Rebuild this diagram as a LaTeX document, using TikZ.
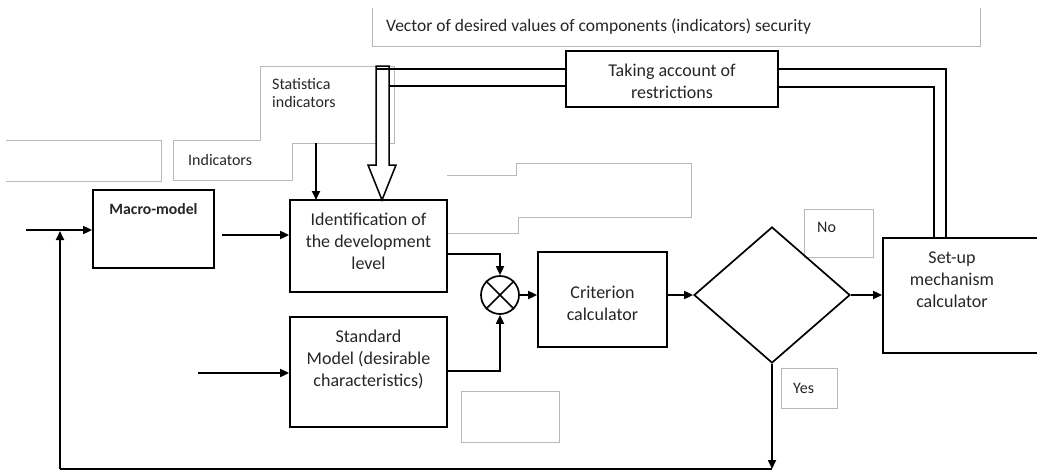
\documentclass[tikz,border=0pt]{standalone}
\usepackage{fontspec}
\setmainfont{Carlito}
\usetikzlibrary{arrows.meta,shapes.geometric}
\tikzset{
  box/.style={draw, line width=1.7pt, fill=white, inner sep=0pt},
  gbox/.style={draw=black!28, line width=1pt},
  conn/.style={line width=1.7pt},
  arr/.style={line width=1.7pt, -{Triangle[length=9pt,width=8pt]}},
  maintxt/.style={font=\fontsize{18}{22}\selectfont, text=black!85, align=center, inner sep=0pt},
  smalltxt/.style={font=\fontsize{16}{18.5}\selectfont, text=black!85, align=left, inner sep=0pt},
}
\begin{document}
\begin{tikzpicture}[x=1pt,y=-1pt]
\useasboundingbox (0,0) rectangle (1037,472);
\fill[white] (0,0) rectangle (1037,472);

% gray text boxes
\draw[gbox] (372,8) -- (372,46) -- (980,46) -- (980,8);
\node[smalltxt, anchor=west, font=\fontsize{17.5}{21}\selectfont] (vec) at (386,27) {Vector of desired values of components (indicators) security};
\draw[gbox] (6,140) -- (161,140) -- (161,181) -- (6,181);
\draw[gbox] (173,140) -- (260,140) -- (260,66) -- (394,66) -- (394,143) -- (292,143) -- (292,180) -- (173,180) -- cycle;
\node[smalltxt, anchor=west] (stat) at (272,93) {Statistica\\indicators};
\node[smalltxt, anchor=west] (ind) at (188,160) {Indicators};
\draw[gbox] (447,175) -- (516,175) -- (516,163) -- (691,163) -- (691,217) -- (518,217) -- (518,233) -- (447,233);
\draw[gbox] (804,209) rectangle (873,257);
\node[smalltxt, anchor=west] (no) at (817,227) {No};
\draw[gbox] (781,368) rectangle (837,408);
\node[smalltxt, anchor=west] (yes) at (793,388) {Yes};
\draw[gbox] (461,391) rectangle (559,442);

% main blocks
\node[box, minimum width=121pt, minimum height=78pt] (macro) at (153.5,229) {};
\node[maintxt, font=\bfseries\fontsize{15.7}{18}\selectfont] (macrot) at (153.5,209) {Macro-model};
\node[box, minimum width=157pt, minimum height=92pt] (ident) at (368.5,246) {};
\node[maintxt] (identt) at (368.5,241.5) {Identification of\\the development\\level};
\node[box, minimum width=157pt, minimum height=110pt] (std) at (368.5,372) {};
\node[maintxt] (stdt) at (368.5,359) {Standard\\Model (desirable\\characteristics)};
\node[box, minimum width=129pt, minimum height=95pt] (crit) at (602.5,299.5) {};
\node[maintxt] (critt) at (602.5,303) {Criterion\\calculator};
\node[draw, line width=1.7pt, diamond, minimum width=156pt, minimum height=136pt, inner sep=0pt] (dec) at (772,295) {};
\node[box, minimum width=170pt, minimum height=115pt] (setup) at (968,295.5) {};
\node[maintxt] (setupt) at (952,280) {Set-up\\mechanism\\calculator};
\node[box, minimum width=212pt, minimum height=56pt] (take) at (672,79) {};
\node[maintxt] (taket) at (672,81.5) {Taking account of\\restrictions};
\node[draw, circle, line width=1.7pt, minimum size=38pt, inner sep=0pt] (mul) at (500,295) {};
\draw[line width=1.5pt] (mul.north west) -- (mul.south east) (mul.north east) -- (mul.south west);

% coordinates for free ends
\coordinate (in1) at (26,230);
\coordinate (min) at (222,235);
\coordinate (sin) at (198,373);
\coordinate (fbl) at (60,469);
\coordinate (fbtop) at (60,231);
\coordinate (ybot) at (772,469);

% connectors
\draw[arr] (in1) -- (in1 -| macro.west);
\draw[arr] (min) -- (min -| ident.west);
\draw[arr] (sin) -- (sin -| std.west);
\draw[arr] ([yshift=-8pt]ident.east) -| (mul.north);
\draw[arr] ([yshift=1pt]std.east) -| (mul.south);
\draw[arr] (mul.east) -- (mul.east -| crit.west);
\draw[arr] (crit.east |- dec.west) -- (dec.west);
\draw[arr] (dec.east) -- (dec.east -| setup.west);
\draw[arr] (dec.south) -- (ybot);
\draw[conn] (ybot) -- (fbl);
\draw[arr] (fbl) -- (fbtop);
\draw[arr] (316,143) -- (316 ,200);

% double lines from set-up to taking account and to the hollow arrow
\draw[conn, line width=1.5pt] (946,238) -- (946,69) -- (778,69);
\draw[conn, line width=1.5pt] (934,238) -- (934,87) -- (778,87);
\draw[conn, line width=1.5pt] (566,69) -- (377,69);
\draw[conn, line width=1.5pt] (566,86) -- (389,86);
% hollow arrow
\draw[line width=1.5pt, fill=white, line join=miter] (376,66) -- (389,66) -- (389,165) -- (396,165) -- (382,200) -- (368,165) -- (376,165) -- cycle;
\draw[line width=1.5pt] (377,69) -- (389,69);
\end{tikzpicture}
\end{document}
